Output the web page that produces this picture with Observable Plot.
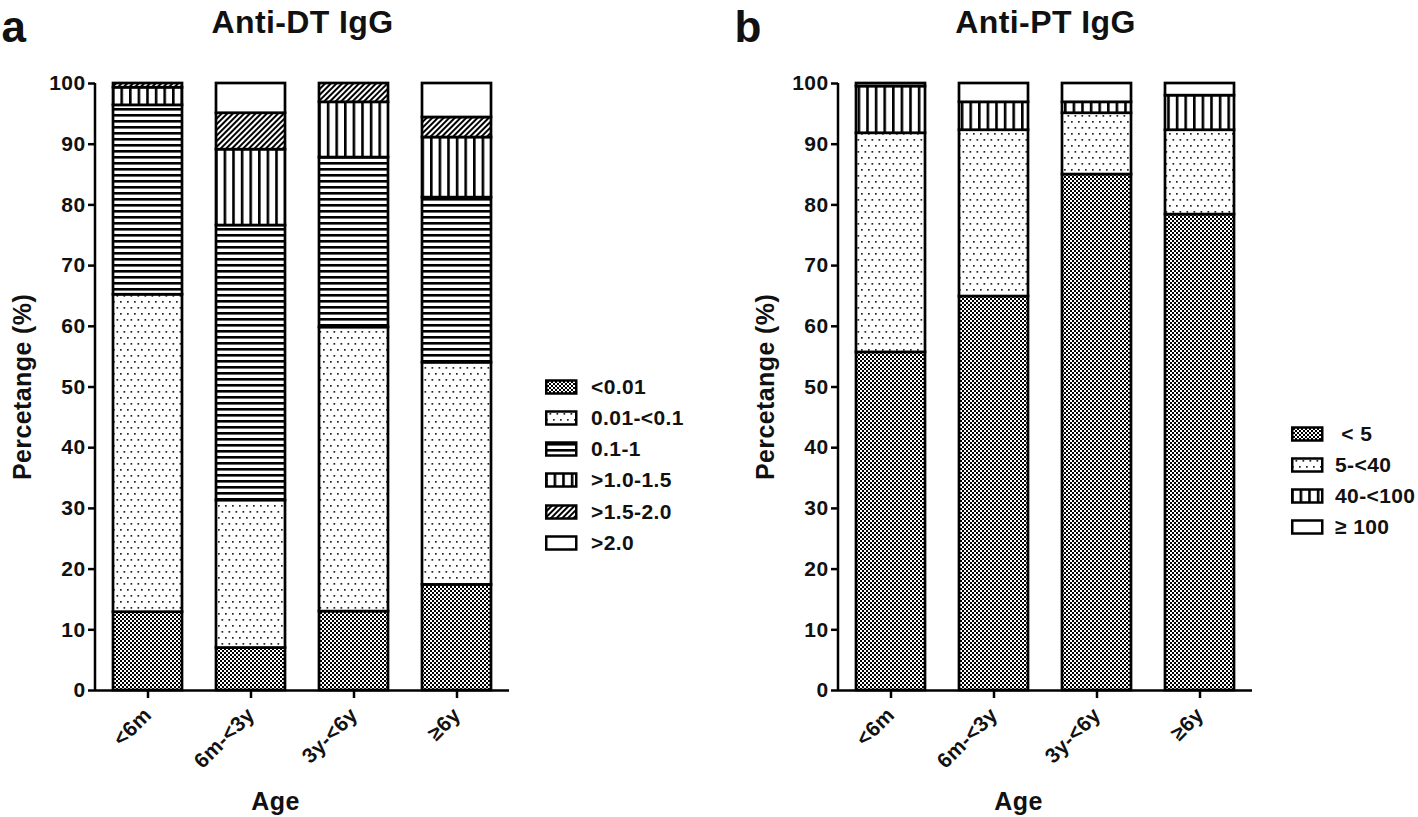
<!DOCTYPE html>
<html>
<head>
<meta charset="utf-8">
<script src="https://cdn.jsdelivr.net/npm/d3@7"></script>
<script src="https://cdn.jsdelivr.net/npm/@observablehq/plot@0.6"></script>
<style>
  html, body { margin: 0; padding: 0; background: #fff; }
  #root { position: relative; width: 1418px; height: 817px; overflow: hidden; font-family: "Liberation Sans", Arial, sans-serif; }
  .panel { position: absolute; top: 0; }
  .panel svg { overflow: visible; }
  .panel g[aria-label*="axis"] line, .panel g[aria-label*="axis"] path { stroke-width: 2.5px; stroke: #000; }
  .panel text { letter-spacing: 0.4px; }
  .legend { position: absolute; font-weight: bold; color: #111; }
  .legend .row { position: absolute; display: flex; align-items: center; white-space: pre; letter-spacing: 0.4px; }
</style>
</head>
<body>
<div id="root">
  <svg width="0" height="0" style="position:absolute">
    <defs>
      <pattern id="p-check" patternUnits="userSpaceOnUse" width="4" height="4">
        <rect width="4" height="4" fill="#fff"/>
        <rect x="0" y="0" width="2" height="2" fill="#000"/>
        <rect x="2" y="2" width="2" height="2" fill="#000"/>
      </pattern>
      <pattern id="p-dots" patternUnits="userSpaceOnUse" width="7" height="12">
        <rect width="7" height="12" fill="#fff"/>
        <rect x="1" y="1" width="1.7" height="1.7" fill="#222"/>
        <rect x="4.5" y="7" width="1.7" height="1.7" fill="#222"/>
      </pattern>
      <pattern id="p-hlines" patternUnits="userSpaceOnUse" width="10" height="6">
        <rect width="10" height="6" fill="#fff"/>
        <rect x="0" y="0" width="10" height="2.6" fill="#000"/>
      </pattern>
      <pattern id="p-vlines" patternUnits="userSpaceOnUse" width="8.6" height="10">
        <rect width="8.6" height="10" fill="#fff"/>
        <rect x="0" y="0" width="2.6" height="10" fill="#000"/>
      </pattern>
      <pattern id="p-hatch" patternUnits="userSpaceOnUse" width="4" height="4" patternTransform="rotate(45)">
        <rect width="4" height="4" fill="#fff"/>
        <rect x="0" y="0" width="2" height="4" fill="#000"/>
      </pattern>
    </defs>
  </svg>
  <div id="left" class="panel" style="left:0px"></div>
  <div id="right" class="panel" style="left:720px"></div>
  <div id="legendA" class="legend" style="left:0;top:0"></div>
  <div id="legendB" class="legend" style="left:0;top:0"></div>
</div>
<script>
// ---------------- data ----------------
const ages = ["<6m", "6m-<3y", "3y-<6y", "≥6y"];

const dtCategories = ["<0.01", "0.01-<0.1", "0.1-1", ">1.0-1.5", ">1.5-2.0", ">2.0"];
const dtLt001   = [12.9, 7.0, 13.0, 17.4];
const dt001to01 = [52.3, 24.3, 46.8, 36.6];
const dt01to1   = [31.2, 45.3, 28.0, 27.2];
const dt1to15   = [2.9, 12.5, 9.1, 9.9];
const dt15to2   = [0.7, 6.0, 3.1, 3.3];
const dtGt2     = [0.0, 4.9, 0.0, 5.6];

const ptCategories = [" < 5", "5-<40", "40-<100", "≥ 100"];
const ptLt5      = [55.7, 64.9, 85.0, 78.4];
const pt5to40    = [36.1, 27.4, 10.1, 13.9];
const pt40to100  = [7.7, 4.6, 1.8, 5.7];
const ptGe100    = [0.5, 3.1, 3.1, 2.0];

const yTicks = [0, 10, 20, 30, 40, 50, 60, 70, 80, 90, 100];

// ---------------- helpers ----------------
const dtPatterns = ["url(#p-check)", "url(#p-dots)", "url(#p-hlines)", "url(#p-vlines)", "url(#p-hatch)", "#fff"];
const ptPatterns = ["url(#p-check)", "url(#p-dots)", "url(#p-vlines)", "#fff"];

function longTable(cats, series) {
  const rows = [];
  cats.forEach((c, ci) => {
    ages.forEach((a, ai) => {
      if (series[ci][ai] > 0) rows.push({age: a, cat: c, value: series[ci][ai]});
    });
  });
  return rows;
}

const FONT = "Liberation Sans, Arial, Helvetica, sans-serif";

function yAxisLine(index, scales, values, dimensions) {
  const ns = "http://www.w3.org/2000/svg";
  const g = document.createElementNS(ns, "g");
  const l = document.createElementNS(ns, "line");
  const x = dimensions.marginLeft;
  l.setAttribute("x1", x); l.setAttribute("x2", x);
  l.setAttribute("y1", scales.y(0)); l.setAttribute("y2", scales.y(100));
  l.setAttribute("stroke", "#000"); l.setAttribute("stroke-width", 2.5);
  g.appendChild(l);
  return g;
}

function panel({cats, series, patterns, title, letter, marginLeft}) {
  const data = longTable(cats, series);
  const width = 520 + (marginLeft - 95);
  return Plot.plot({
    width, height: 817,
    marginLeft, marginRight: 11, marginTop: 83, marginBottom: 127,
    style: {fontFamily: FONT, fontSize: "21px", fontWeight: "bold", color: "#111", background: "transparent", overflow: "visible"},
    x: {domain: ages, paddingInner: 0.333, paddingOuter: 0.1667, tickRotate: -45, tickSize: 8, tickPadding: 13, label: null},
    y: {domain: [0, 100], ticks: yTicks, tickSize: 7, tickPadding: 3, label: null},
    color: {domain: cats, range: patterns},
    marks: [
      Plot.barY(data, {x: "age", y: "value", fill: "cat", stroke: "#000", strokeWidth: 2.7}),
      Plot.ruleY([0], {stroke: "#000", strokeWidth: 2.5}),
      yAxisLine,
      Plot.text([title], {frameAnchor: "top", dy: -61, lineAnchor: "middle", fontSize: 32, fontWeight: "bold", fill: "#111"}),
      Plot.text([letter], {frameAnchor: "top-left", dx: -(marginLeft) + (letter === "a" ? 1 : 14), dy: -56, lineAnchor: "middle", textAnchor: "start", fontSize: 44, fontWeight: "bold", fill: "#111"}),
      Plot.text(["Percetange (%)"], {frameAnchor: "left", dx: -73, rotate: -90, textAnchor: "middle", lineAnchor: "middle", fontSize: 25, fontWeight: "bold", fill: "#111"}),
      Plot.text(["Age"], {frameAnchor: "bottom", dx: -27, dy: 111, lineAnchor: "middle", fontSize: 25, fontWeight: "bold", fill: "#111"})
    ]
  });
}

const left = panel({
  cats: dtCategories,
  series: [dtLt001, dt001to01, dt01to1, dt1to15, dt15to2, dtGt2],
  patterns: dtPatterns, title: "Anti-DT IgG", letter: "a", marginLeft: 95
});
const right = panel({
  cats: ptCategories,
  series: [ptLt5, pt5to40, pt40to100, ptGe100],
  patterns: ptPatterns, title: "Anti-PT IgG", letter: "b", marginLeft: 118
});
document.getElementById("left").appendChild(left);
document.getElementById("right").appendChild(right);

// ---------------- legends ----------------
function legend(el, cats, patterns, {x, y0, step, textX, fontSize}) {
  cats.forEach((c, i) => {
    const row = document.createElement("div");
    row.className = "row";
    const cy = y0 + i * step;
    row.style.left = x + "px";
    row.style.top = (cy - 12) + "px";
    row.style.height = "24px";
    row.style.fontSize = fontSize + "px";
    row.innerHTML = `<svg width="${textX - x}" height="24"><rect x="1.25" y="5.5" width="30" height="13" fill="${patterns[i]}" stroke="#000" stroke-width="2.5"/></svg><span>${c.replace(/</g, "&lt;")}</span>`;
    el.appendChild(row);
  });
}
legend(document.getElementById("legendA"), dtCategories, dtPatterns, {x: 545, y0: 386.7, step: 31.2, textX: 591, fontSize: 21});
legend(document.getElementById("legendB"), ptCategories, ptPatterns, {x: 1291, y0: 434.3, step: 31, textX: 1335, fontSize: 21});
</script>
</body>
</html>
